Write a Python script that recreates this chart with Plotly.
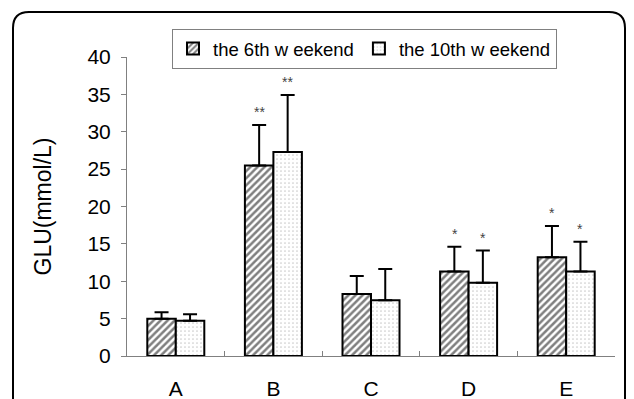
import plotly.graph_objects as go

categories = ["A", "B", "C", "D", "E"]
week6_mean = [5.0, 25.5, 8.3, 11.3, 13.2]
week6_err = [0.85, 5.4, 2.4, 3.3, 4.2]
week10_mean = [4.7, 27.3, 7.45, 9.8, 11.3]
week10_err = [0.9, 7.6, 4.2, 4.3, 4.0]
week6_stars = ["", "**", "", "*", "*"]
week10_stars = ["", "**", "", "*", "*"]
series_names = ["the 6th w eekend", "the 10th w eekend"]
y_ticks = [0, 5, 10, 15, 20, 25, 30, 35, 40]

W, H = 634, 399
L, R, T, B = 127, 19, 57, 43
FONT = "Liberation Sans, Arial, sans-serif"

fig = go.Figure()
fig.add_trace(go.Bar(
    x=categories, y=week6_mean, name=series_names[0],
    marker=dict(color="white", line=dict(color="black", width=2),
                pattern=dict(shape="/", fgcolor="black", bgcolor="white", size=5, solidity=0.5)),
    error_y=dict(type="data", array=week6_err, arrayminus=[0]*len(week6_err), symmetric=False,
                 color="black", thickness=2, width=7),
))
fig.add_trace(go.Bar(
    x=categories, y=week10_mean, name=series_names[1],
    marker=dict(color="white", line=dict(color="black", width=2),
                pattern=dict(shape=".", fgcolor="#9a9a9a", bgcolor="white", size=4, solidity=0.15)),
    error_y=dict(type="data", array=week10_err, arrayminus=[0]*len(week10_err), symmetric=False,
                 color="black", thickness=2, width=7),
))

star_font = dict(family=FONT, size=14, color="#444444")
annotations = []
for cat, m, e, s in zip(categories, week6_mean, week6_err, week6_stars):
    if s:
        annotations.append(dict(x=cat, y=m + e, text=s, showarrow=False, xshift=-14, yshift=13,
                                yanchor="middle", font=star_font))
for cat, m, e, s in zip(categories, week10_mean, week10_err, week10_stars):
    if s:
        annotations.append(dict(x=cat, y=m + e, text=s, showarrow=False, xshift=14, yshift=13,
                                yanchor="middle", font=star_font))

pw, ph = W - L - R, H - T - B
def px(x):
    return (x - L) / pw
def py(y):
    return (H - B - y) / ph

fl, ft, fr, fb, rad = 13, 12, 625, 420, 16
path = (f"M {px(fl)} {py(fb)} L {px(fl)} {py(ft+rad)} Q {px(fl)} {py(ft)} {px(fl+rad)} {py(ft)} "
        f"L {px(fr-rad)} {py(ft)} Q {px(fr)} {py(ft)} {px(fr)} {py(ft+rad)} L {px(fr)} {py(fb)}")

fig.update_layout(
    width=W, height=H,
    margin=dict(l=L, r=R, t=T, b=B, pad=0, autoexpand=False),
    paper_bgcolor="white", plot_bgcolor="white",
    barmode="group", bargap=0.416, bargroupgap=0,
    font=dict(family=FONT, size=21, color="black"),
    showlegend=True,
    legend=dict(orientation="h", x=px(172), y=py(29), xanchor="left", yanchor="top",
                bordercolor="#808080", borderwidth=1, bgcolor="white",
                font=dict(family=FONT, size=18.5, color="black"),
                itemwidth=30, tracegroupgap=0),
    xaxis=dict(showline=True, linecolor="#808080", linewidth=1, ticks="inside",
               tickson="boundaries", ticklen=5, tickcolor="#808080",
               tickfont=dict(family=FONT, size=21), ticklabelstandoff=14,
               showgrid=False, zeroline=False),
    yaxis=dict(range=[0, 40], tickvals=y_ticks, showline=True, linecolor="#808080", linewidth=1,
               ticks="outside", ticklen=5, tickcolor="#808080",
               tickfont=dict(family=FONT, size=21), ticklabelstandoff=6,
               showgrid=False, zeroline=False,
               title=dict(text="GLU(mmol/L)", font=dict(family=FONT, size=23), standoff=29)),
    annotations=annotations,
    shapes=[dict(type="path", path=path, xref="paper", yref="paper",
                 line=dict(color="black", width=2))],
)

fig.write_html("out.html",
               config={"displayModeBar": False, "staticPlot": True},
               post_script="document.body.style.margin='0px';document.body.style.overflow='hidden';")
